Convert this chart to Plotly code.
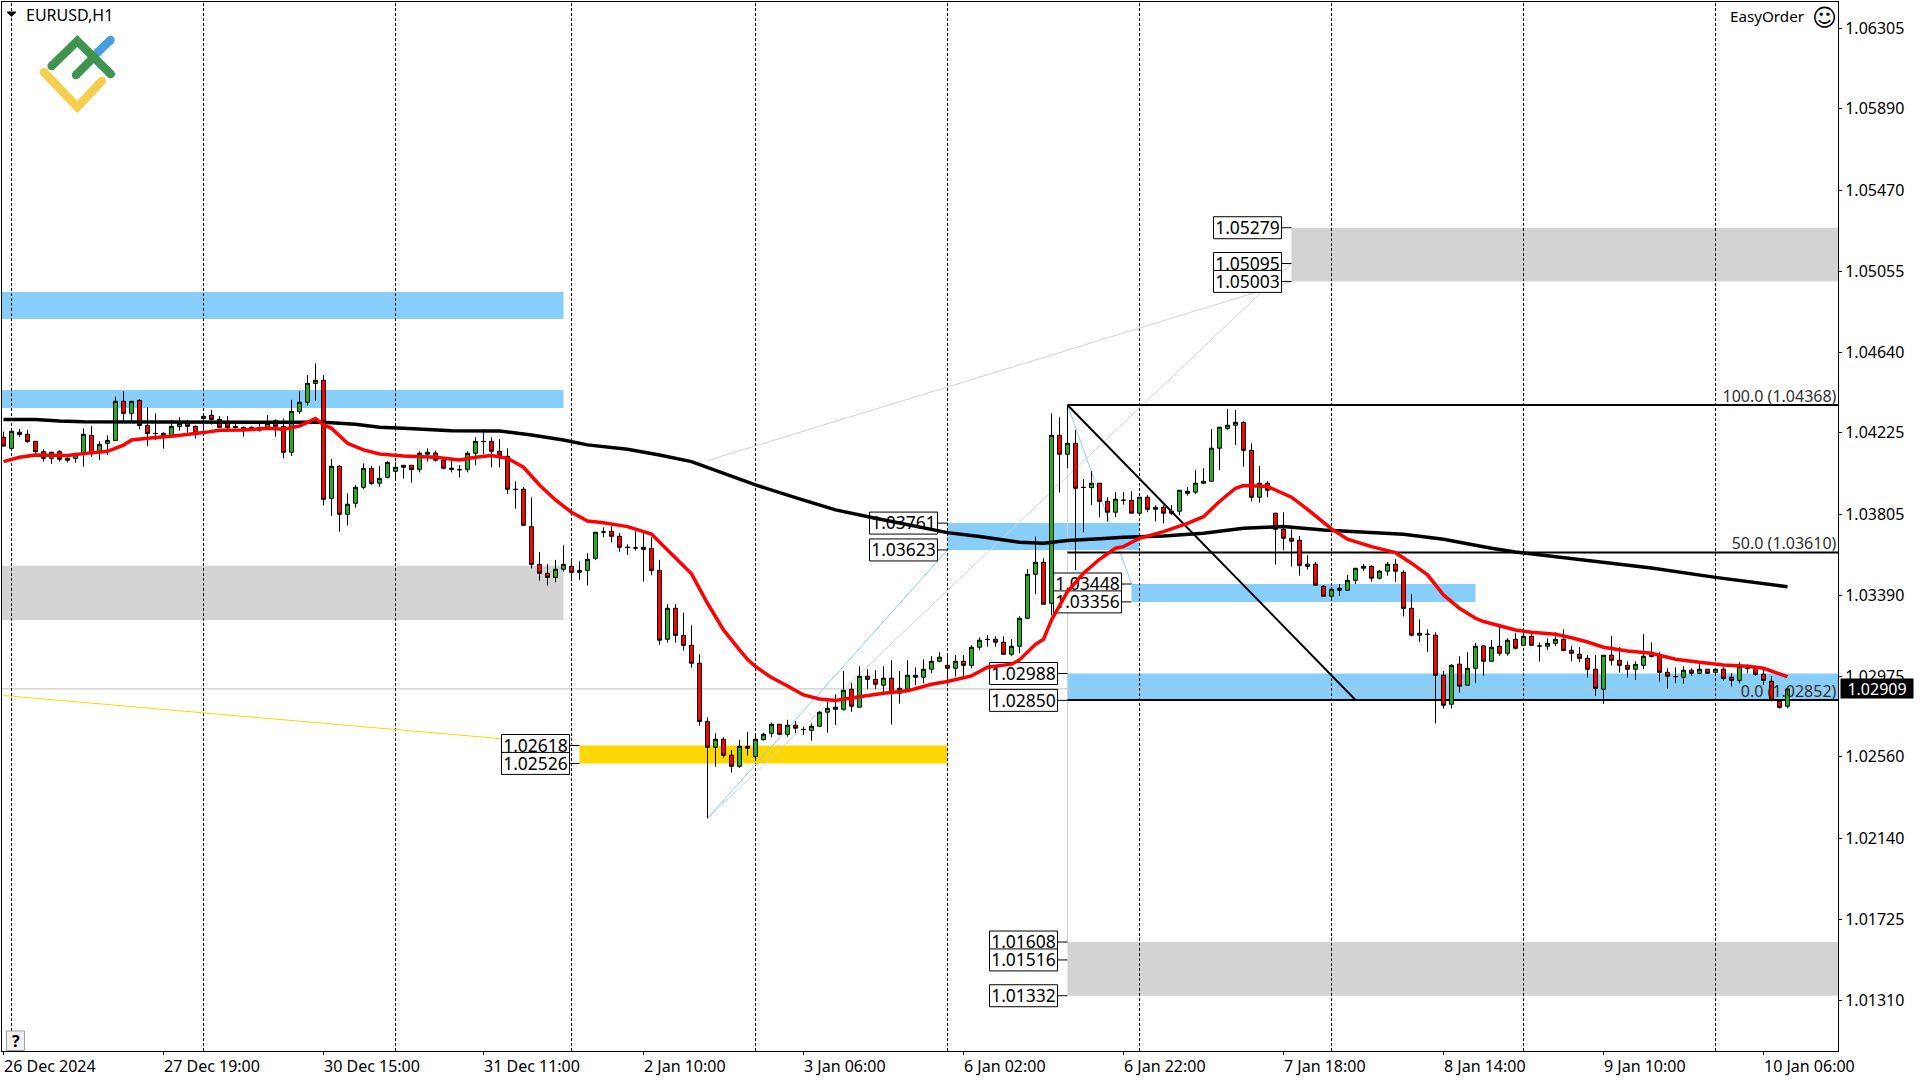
import plotly.graph_objects as go

# ---------- candle data, in points (1 point = 0.00001) ----------
open_pts = [
 104202,104145,104228,104217,104181,104128,104094,104128,104084,104094,
 104120,104212,104128,104171,104186,104387,104325,104392,104263,104222,
 104222,104205,104258,104274,104258,104299,104315,104294,104274,104258,
 104253,104243,104253,104253,104287,104258,104125,104335,104382,104479,
 104495,103888,104053,103806,103863,103945,104042,103966,103996,104027,
 104048,104058,104037,104115,104121,104084,104043,104036,104037,104120,
 104181,104181,104130,104104,103935,103935,103743,103549,103503,103482,
 103524,103539,103508,103518,103580,103716,103719,103693,103637,103634,
 103637,103631,103518,103164,103323,103184,103133,103041,102742,102609,
 102650,102568,102511,102614,102561,102648,102681,102727,102676,102722,
 102701,102696,102717,102789,102815,102804,102907,102815,102974,102958,
 102928,102964,102887,102907,102979,102969,103010,103051,103030,103015,
 103051,103030,103123,103164,103164,103149,103087,103128,103272,103498,
 103560,103349,104212,104115,104171,103945,103943,103966,103873,103817,
 103879,103878,103812,103894,103832,103842,103822,103822,103925,103920,
 103966,103976,104146,104248,104264,104279,104135,103894,103966,103812,
 103729,103683,103673,103539,103550,103436,103385,103426,103416,103467,
 103529,103539,103478,103514,103550,103508,103323,103185,103190,103185,
 102979,102830,103036,102928,103015,103130,103051,103128,103092,103164,
 103133,103179,103130,103128,103143,103164,103107,103087,103066,103010,
 102907,103082,103056,103030,103010,103030,103082,103082,102994,102973,
 102969,103005,102989,103010,102994,103010,102969,102953,103015,103015,
 102984,102948,102845,102820]
high_pts = [
 104231,104233,104245,104239,104181,104140,104128,104137,104102,104123,
 104248,104260,104181,104212,104411,104440,104387,104397,104356,104325,
 104228,104291,104305,104291,104263,104317,104342,104311,104311,104270,
 104257,104260,104274,104317,104294,104299,104394,104440,104522,104582,
 104522,104090,104058,103914,103957,104068,104054,104055,104079,104077,
 104058,104058,104130,104145,104133,104094,104094,104060,104130,104202,
 104243,104202,104192,104145,103976,103945,103894,103613,103551,103572,
 103647,103565,103565,103606,103714,103739,103746,103709,103652,103719,
 103709,103688,103572,103344,103344,103301,103236,103087,102763,102681,
 102660,102595,102647,102688,102672,102684,102736,102727,102750,102743,
 102715,102732,102794,102844,102881,103000,102938,103025,103010,103005,
 103025,103056,103000,103056,103020,103061,103077,103097,103077,103082,
 103082,103133,103174,103186,103179,103179,103164,103282,103524,103692,
 103580,104325,104305,104368,104240,103986,104027,103966,103894,103920,
 103920,103925,103894,103904,103853,103853,103853,103930,103945,104034,
 104043,104245,104254,104348,104343,104284,104171,104055,103976,103812,
 103817,103729,103695,103596,103560,103442,103431,103448,103495,103529,
 103550,103544,103519,103560,103575,103519,103395,103267,103215,103200,
 103000,103036,103077,103097,103144,103133,103160,103243,103169,103195,
 103205,103202,103148,103169,103200,103215,103130,103123,103082,103082,
 103082,103181,103123,103051,103051,103191,103148,103097,103015,103020,
 103025,103015,103035,103010,103015,103023,102989,103046,103035,103030,
 103015,102974,102852,102909]
low_pts = [
 104154,104145,104205,104174,104116,104077,104065,104077,104072,104072,
 104051,104102,104085,104111,104186,104282,104282,104243,104157,104188,
 104144,104205,104236,104226,104195,104239,104267,104250,104246,104248,
 104205,104236,104231,104253,104205,104094,104106,104322,104365,104390,
 103851,103798,103717,103748,103840,103935,103957,103948,103991,103991,
 103990,103969,104022,104077,104077,104037,104022,103995,104022,104058,
 104115,104048,104048,103911,103835,103746,103529,103465,103440,103457,
 103512,103462,103469,103440,103572,103688,103662,103613,103597,103620,
 103460,103493,103135,103147,103147,103106,103018,102720,102244,102509,
 102556,102479,102504,102566,102544,102643,102660,102671,102664,102681,
 102672,102643,102715,102684,102724,102797,102792,102815,102907,102907,
 102887,102726,102833,102907,102928,102938,102989,103046,102955,102972,
 102969,103015,103109,103126,103126,103084,103077,103092,103267,103397,
 103344,103287,103918,104043,103520,103714,103853,103791,103769,103791,
 103856,103812,103812,103817,103770,103760,103803,103801,103902,103909,
 103961,103976,104033,104238,104163,104051,103872,103866,103894,103548,
 103623,103537,103491,103522,103442,103385,103375,103388,103416,103448,
 103514,103460,103472,103491,103459,103281,103179,103150,103099,102732,
 102808,102808,102890,102928,102940,102975,103051,103080,103080,103112,
 103128,103130,103049,103109,103130,103102,103051,103046,102967,102873,
 102832,103029,102993,102967,102955,103010,103071,102946,102910,102938,
 102936,102977,102984,102989,102989,102951,102921,102938,102989,102977,
 102929,102845,102808,102809]
close_pts = [
 104157,104233,104216,104180,104128,104094,104125,104089,104094,104118,
 104217,104120,104166,104186,104387,104325,104387,104263,104221,104221,
 104210,104258,104274,104258,104222,104310,104294,104253,104251,104253,
 104236,104253,104239,104274,104257,104125,104335,104382,104479,104495,
 103883,104053,103806,103858,103945,104042,103965,103991,104073,104048,
 104058,104036,104120,104125,104084,104043,104037,104035,104120,104181,
 104180,104130,104106,103935,103934,103750,103549,103503,103482,103524,
 103549,103508,103518,103575,103714,103715,103693,103637,103636,103633,
 103626,103518,103159,103323,103184,103133,103041,102742,102609,102650,
 102568,102511,102614,102604,102650,102676,102727,102676,102722,102707,
 102700,102717,102789,102809,102804,102902,102820,102974,102958,102933,
 102964,102887,102912,102979,102969,103010,103051,103072,103015,103051,
 103030,103123,103159,103163,103149,103087,103128,103272,103498,103560,
 103344,104212,104115,104171,103940,103944,103966,103873,103817,103884,
 103878,103812,103894,103832,103842,103812,103812,103930,103914,103966,
 103976,104146,104254,104264,104279,104135,103894,103966,103930,103729,
 103683,103668,103544,103550,103442,103385,103421,103416,103467,103529,
 103539,103478,103514,103550,103514,103323,103185,103195,103189,102979,
 102825,103030,102923,103015,103128,103051,103123,103092,103159,103118,
 103179,103133,103129,103143,103164,103107,103092,103066,103010,102912,
 103082,103056,103030,103010,103035,103077,103077,102994,102974,102972,
 103005,102989,103010,102989,103010,102963,102953,103025,103014,102984,
 102953,102850,102814,102909]

# ---------- moving averages, read at the listed bars ----------
red_ma_bars = [0,1,2,4,8,10,13,15,16,18,21,25,27,30,33,35,37,39,40,41,43,45,47,
 50,54,57,59,61,63,65,67,69,71,73,75,78,81,83,86,88,90,92,93,94,96,98,100,102,104,
 107,110,113,116,118,121,123,126,127,129,130,131,133,135,137,139,140,142,145,148,
 150,152,154,155,158,161,163,166,168,171,174,176,178,180,182,184,185,187,189,191,
 194,196,198,200,203,206,209,212,215,218,220,222,223]
red_ma_pts = [104077,104089,104099,104111,104109,104118,104130,104162,104188,104197,104207,104226,
 104238,104239,104248,104243,104260,104298,104267,104248,104171,104137,104116,
 104106,104099,104085,104099,104108,104094,104048,103957,103880,103816,103772,103763,
 103743,103705,103623,103500,103349,103212,103109,103061,103024,102967,102924,102878,
 102857,102849,102869,102887,102899,102933,102947,102976,103020,103036,103058,103138,
 103164,103263,103409,103503,103575,103632,103640,103683,103717,103760,103794,103872,
 103940,103954,103949,103894,103832,103731,103678,103640,103609,103555,103495,103392,
 103323,103272,103255,103232,103212,103200,103190,103172,103150,103123,103104,103092,
 103061,103046,103032,103025,103015,102986,102972]
black_ma_bars = [0,4,7,10,20,40,44,47,50,56,62,66,70,73,78,82,86,90,92,94,99,104,109,114,118,
 122,127,130,133,137,140,145,150,155,160,165,170,175,180,184,186,189,206,214,223]
black_ma_pts = [104294,104293,104286,104282,104281,104279,104269,104253,104248,104236,104234,
 104214,104188,104163,104140,104111,104077,104017,103983,103957,103892,103829,103786,
 103746,103712,103692,103663,103657,103671,103680,103688,103695,103709,103734,103743,
 103726,103714,103704,103678,103645,103632,103612,103530,103482,103434]

# ---------- price levels ----------
tick_prices = [1.06305,1.05890,1.05470,1.05055,1.04640,1.04225,1.03805,1.03390,1.02975,1.02560,1.02140,1.01725,1.01310]
time_labels = ["26 Dec 2024","27 Dec 19:00","30 Dec 15:00","31 Dec 11:00","2 Jan 10:00","3 Jan 06:00",
               "6 Jan 02:00","6 Jan 22:00","7 Jan 18:00","8 Jan 14:00","9 Jan 10:00","10 Jan 06:00"]
time_bars = [0,20,40,60,80,100,120,140,160,180,200,220]
dash_bars = [1,25,49,71,94,118,142,166,190,214]

zone_colors = {"blue":"#87CEFA","gray":"#D3D3D3","gold":"#FFD700"}
zone_starts = [-1,-1,-1,72,118,141,133,161,133]
zone_ends   = [70,70,70,118,142,184,230,230,230]
zone_tops   = [1.04949,1.04445,1.03542,1.02618,1.03761,1.03448,1.02988,1.05279,1.01608]
zone_bottoms= [1.04810,1.04353,1.03263,1.02526,1.03623,1.03356,1.02850,1.05003,1.01332]
zone_kinds  = ["blue","blue","gray","gold","blue","blue","blue","gray","gray"]

label_bars   = [72,72,118,118,141,141,133,133,161,161,161,133,133,133]
label_prices = [1.02618,1.02526,1.03761,1.03623,1.03448,1.03356,1.02988,1.02850,
                1.05279,1.05095,1.05003,1.01608,1.01516,1.01332]

fib_levels = [1.04368,1.03610,1.02852]
fib_names  = ["100.0","50.0","0.0"]
last_price = 1.02909

gray_line_bars = [[88,161],[88,161],[133,133]]
gray_line_prices = [[1.04082,1.05003],[1.02244,1.05095],[1.04368,1.01608]]
blue_line_bars = [[88,118],[133,141]]
blue_line_prices = [[1.02244,1.03623],[1.04368,1.03448]]
gold_line_bars = [0,72]
gold_line_prices = [1.02875,1.02618]
fib_diag_bars = [133,169]
fib_diag_prices = [1.04368,1.02852]

# ---------- page geometry ----------
W, H = 1920, 1080
ML, MR, MT, MB = 2, 82, 2, 29
PW, PH = W-ML-MR, H-MT-MB
def px(X): return (X-ML)/PW
def py(Y): return 1-(Y-MT)/PH
XMIN, XMAX = -0.1875, -0.1875+PW/8
YMIN, YMAX = 1.01048, 1.06439
FONT = "Noto Sans"
bars = list(range(len(open_pts)))
scale = lambda a: [v/100000 for v in a]

fig = go.Figure()
shapes = []
def seg(x0,y0,x1,y1,color,width=1,dash=None,layer="below"):
    shapes.append(dict(type="line",x0=x0,x1=x1,y0=y0,y1=y1,xref="x",yref="y",layer=layer,
                       line=dict(color=color,width=width,dash=dash)))

for s,e,t,b,k in zip(zone_starts,zone_ends,zone_tops,zone_bottoms,zone_kinds):
    shapes.append(dict(type="rect",x0=s,x1=e,y0=b,y1=t,xref="x",yref="y",layer="below",
                       fillcolor=zone_colors[k],line=dict(width=0)))
seg(XMIN,last_price,XMAX,last_price,"#C0C0C0")
for k in dash_bars:
    seg(k,YMIN,k,YMAX,"#000000",1,"3px,2px")
for xs,ys in zip(gray_line_bars,gray_line_prices):
    seg(xs[0],ys[0],xs[1],ys[1],"#D3D3D3")
for xs,ys in zip(blue_line_bars,blue_line_prices):
    seg(xs[0],ys[0],xs[1],ys[1],"#87CEFA")
seg(gold_line_bars[0],gold_line_prices[0],gold_line_bars[1],gold_line_prices[1],"#FFD700")
for lvl in fib_levels:
    seg(133,lvl,XMAX,lvl,"#000000",2)
seg(fib_diag_bars[0],fib_diag_prices[0],fib_diag_bars[1],fib_diag_prices[1],"#000000",2)
# price boxes with their short leaders
for k,p in zip(label_bars,label_prices):
    seg(k-1.25,p,k,p,"#000000")
    shapes.append(dict(type="rect",xsizemode="pixel",ysizemode="pixel",xanchor=k,yanchor=p,
                       x0=-78,x1=-10,y0=-11,y1=11,xref="x",yref="y",layer="below",
                       fillcolor="#FFFFFF",line=dict(color="#000000",width=1)))

# logo
def poly(points,color,width=8.5):
    d="M"+" L".join(f"{px(x):.5f},{py(y):.5f}" for x,y in points)
    shapes.append(dict(type="path",path=d,xref="paper",yref="paper",layer="above",
                       line=dict(color=color,width=width)))
    for x,y in (points[0],points[-1]):
        r=width/2
        shapes.append(dict(type="circle",xref="paper",yref="paper",layer="above",
                           x0=px(x-r),x1=px(x+r),y0=py(y+r),y1=py(y-r),fillcolor=color,line=dict(width=0)))
poly([(97,53),(110.5,40)],"#479FDE")
poly([(51.7,66),(77.3,41),(110.7,74)],"#3F9550")
poly([(76,75),(94,57)],"#3F9550")
poly([(44,72.3),(77.3,107),(101.7,81)],"#F4CE4E")
# triangle, help button
shapes.append(dict(type="path",xref="paper",yref="paper",layer="above",fillcolor="#000000",line=dict(width=1,color="#000000"),
    path=f"M{px(7):.5f},{py(12):.5f} L{px(16):.5f},{py(12):.5f} L{px(11.5):.5f},{py(16.5):.5f} Z"))
shapes.append(dict(type="rect",xref="paper",yref="paper",layer="above",fillcolor="#F0F0F0",
    x0=px(6.5),x1=px(24.5),y0=py(1050.5),y1=py(1031),line=dict(color="#A0A0A0",width=1)))

# texts drawn under the averages; a small downward nudge centres the digits in their boxes
TEXT_NUDGE = 0.00010
fig.add_trace(go.Scatter(x=[k-5.5 for k in label_bars],y=[p-TEXT_NUDGE for p in label_prices],mode="text",
    text=[f"{p:.5f}" for p in label_prices],textposition="middle center",
    textfont=dict(family=FONT,size=17.5,color="#000000"),hoverinfo="skip",showlegend=False))
fig.add_trace(go.Scatter(x=[XMAX-0.2]*3,y=[v-0.00004 for v in fib_levels],mode="text",
    text=[f"{n} ({v:.5f})" for n,v in zip(fib_names,fib_levels)],textposition="top left",
    textfont=dict(family=FONT,size=16,color="#303030"),hoverinfo="skip",showlegend=False,cliponaxis=False))

fig.add_trace(go.Candlestick(x=bars,open=scale(open_pts),high=scale(high_pts),low=scale(low_pts),close=scale(close_pts),
    whiskerwidth=0,showlegend=False,hoverinfo="skip",
    increasing=dict(fillcolor="#20B020",line=dict(color="#000000",width=1)),
    decreasing=dict(fillcolor="#FF0000",line=dict(color="#000000",width=1))))
fig.add_trace(go.Scatter(x=black_ma_bars,y=scale(black_ma_pts),mode="lines",line=dict(color="#000000",width=3.5),hoverinfo="skip",showlegend=False))
fig.add_trace(go.Scatter(x=red_ma_bars,y=scale(red_ma_pts),mode="lines",line=dict(color="#FF0000",width=3.5),hoverinfo="skip",showlegend=False))

anns = []
for k,t in zip(time_bars,time_labels):
    anns.append(dict(x=k,y=0,xref="x",yref="paper",xanchor="left",yanchor="top",yshift=-2,xshift=-2,
                     text=t,showarrow=False,font=dict(family=FONT,size=16,color="#000000")))
def pa(X,Y,t,size=16,anchor="left",color="#000000",family=FONT):
    anns.append(dict(x=px(X),y=py(Y),xref="paper",yref="paper",xanchor=anchor,yanchor="middle",
                     text=t,showarrow=False,font=dict(family=family,size=size,color=color)))
pa(24,15,"EURUSD,H1")
pa(1807,16,"EasyOrder",size=15.2,anchor="right")
pa(1824,18,"☺",size=24,anchor="center",family="DejaVu Sans")
pa(15.5,1041,"<b>?</b>",size=16,anchor="center")
anns.append(dict(x=1,y=last_price,xref="paper",yref="y",xanchor="left",yanchor="middle",xshift=2,
                 text=f"{last_price:.5f}",showarrow=False,width=70,height=17,align="center",
                 bgcolor="#000000",font=dict(family=FONT,size=16,color="#FFFFFF")))

fig.update_layout(width=W,height=H,margin=dict(l=ML,r=MR,t=MT,b=MB,autoexpand=False),
    paper_bgcolor="#FFFFFF",plot_bgcolor="#FFFFFF",showlegend=False,shapes=shapes,annotations=anns,
    boxgap=0.3,boxgroupgap=0.2857,
    xaxis=dict(range=[XMIN,XMAX],rangeslider=dict(visible=False),showgrid=False,zeroline=False,
               showline=True,mirror=True,linecolor="#000000",linewidth=1,
               tickmode="array",tickvals=time_bars,ticktext=[""]*len(time_bars),ticks="outside",ticklen=3,tickcolor="#000000"),
    yaxis=dict(range=[YMIN,YMAX],side="right",showgrid=False,zeroline=False,
               showline=True,mirror=True,linecolor="#000000",linewidth=1,
               tickmode="array",tickvals=tick_prices,ticktext=[f"{v:.5f}" for v in tick_prices],
               ticks="outside",ticklen=3,tickcolor="#000000",
               tickfont=dict(family=FONT,size=16,color="#000000")))

fig.write_html("out.html",config={"displayModeBar":False},
               post_script="document.body.style.margin='0';document.body.style.overflow='hidden';")
